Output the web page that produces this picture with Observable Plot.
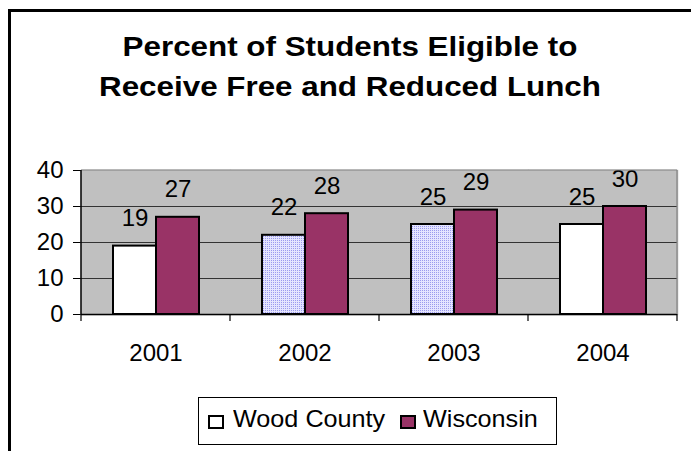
<!DOCTYPE html>
<html><head><meta charset="utf-8">
<script src="https://cdn.jsdelivr.net/npm/d3@7"></script>
<script src="https://cdn.jsdelivr.net/npm/@observablehq/plot@0.6"></script>
<style>
body{margin:0;background:#fff;}
#wrap{position:relative;width:691px;height:451px;overflow:hidden;background:#fff;font-family:"Liberation Sans",Arial,sans-serif;color:#000;}
#border{position:absolute;left:8px;top:9px;width:720px;height:480px;border:3px solid #000;box-sizing:border-box;}
#title{position:absolute;left:0;top:27px;width:700px;text-align:center;font-weight:bold;font-size:28px;line-height:40px;transform:scaleX(1.12);transform-origin:350px 0;white-space:nowrap;}
#chart{position:absolute;left:0;top:140px;}
#legend{position:absolute;left:198px;top:397px;width:359px;height:48px;border:1px solid #000;box-sizing:border-box;background:#fff;}
.sw{position:absolute;width:16px;height:14px;border:2px solid #000;box-sizing:border-box;}
.lt{position:absolute;font-size:24px;line-height:24px;white-space:nowrap;transform:scaleX(1.05);transform-origin:0 0;}
</style></head>
<body>
<div id="wrap">
  <div id="border"></div>
  <div id="title">Percent of Students Eligible to<br>Receive Free and Reduced Lunch</div>
  <div id="chart"></div>
  <div id="legend"></div>
</div>
<script>
const years = ["2001", "2002", "2003", "2004"];
const seriesNames = ["Wood County", "Wisconsin"];
const woodCounty = [19, 22, 25, 25];
const wisconsin = [27, 28, 29, 30];
const yTicks = [0, 10, 20, 30, 40];
const gridValues = [10, 20, 30];

(function () {
const rows = years.flatMap((year, i) => [
  {year, series: seriesNames[0], value: woodCounty[i]},
  {year, series: seriesNames[1], value: wisconsin[i]}
]);

const dottedYears = new Set(["2002", "2003"]);
const maroon = "#993366";
const dotKey = "#ccccff";
const font = "'Liberation Sans', Arial, sans-serif";

const chart = Plot.plot({
  width: 691, height: 229,
  marginTop: 30, marginBottom: 55, marginLeft: 81, marginRight: 14,
  style: {fontFamily: font, fontSize: "24px", color: "#000", background: "transparent"},
  fx: {domain: years, padding: 0, axis: "bottom", tickSize: 0, tickPadding: 29, label: null},
  x: {domain: seriesNames, paddingInner: 0, paddingOuter: 0.73, axis: null},
  y: {domain: [0, 40], ticks: yTicks, tickSize: 8, tickPadding: 10, label: null, tickFormat: d => String(d)},
  marks: [
    Plot.frame({fill: "#c0c0c0", stroke: "#c0c0c0", strokeWidth: 1.5}),
    Plot.ruleY(gridValues, {stroke: "#333", strokeWidth: 1}),
    Plot.barY(rows, {filter: d => d.series === seriesNames[0] && !dottedYears.has(d.year), fx: "year", x: "series", y: "value", fill: "#ffffff", stroke: "#000", strokeWidth: 2}),
    Plot.barY(rows, {filter: d => d.series === seriesNames[0] && dottedYears.has(d.year), fx: "year", x: "series", y: "value", fill: dotKey, stroke: "#000", strokeWidth: 2}),
    Plot.barY(rows, {filter: d => d.series === seriesNames[1], fx: "year", x: "series", y: "value", fill: maroon, stroke: "#000", strokeWidth: 2}),
    Plot.ruleY([0], {stroke: "#000", strokeWidth: 1.5}),
    Plot.text(rows, {fx: "year", x: "series", y: "value", text: d => String(d.value), lineAnchor: "bottom", dy: -20, fontSize: 24, fill: "#000"})
  ]
});

const svg = d3.select(chart);
svg.insert("defs", ":first-child").html(
  '<pattern id="dots" width="2" height="2" patternUnits="userSpaceOnUse">' +
  '<rect width="2" height="2" fill="#e4e4ff"/><rect width="1" height="1" fill="#9a9aee"/></pattern>');
svg.selectAll(`g[fill="${dotKey}"]`).attr("fill", "url(#dots)");

// plot-area border and axis lines from the library's scales
const fxs = chart.scale("fx");
const ys = chart.scale("y");
const x0 = fxs.apply(years[0]);
const x1 = fxs.apply(years[years.length - 1]) + fxs.bandwidth;
const yTop = ys.apply(40), yBot = ys.apply(0);
const deco = svg.append("g");
deco.append("line").attr("x1", x0).attr("x2", x1).attr("y1", yTop).attr("y2", yTop).attr("stroke", "#808080").attr("stroke-width", 1.2);
deco.append("line").attr("x1", x1).attr("x2", x1).attr("y1", yTop).attr("y2", yBot).attr("stroke", "#808080").attr("stroke-width", 1.2);
deco.append("line").attr("x1", x0).attr("x2", x0).attr("y1", yTop).attr("y2", yBot).attr("stroke", "#000").attr("stroke-width", 1.5);
const bounds = years.map(yr => fxs.apply(yr)).concat([x1]);
bounds.forEach(bx => {
  deco.append("line").attr("x1", bx).attr("x2", bx).attr("y1", yBot).attr("y2", yBot + 7).attr("stroke", "#000").attr("stroke-width", 1.2);
});

document.getElementById("chart").appendChild(chart);

// legend
const legend = document.getElementById("legend");
const swatchFills = ["#ffffff", maroon];
const swLeft = [9, 201], txtLeft = [34, 224];
seriesNames.forEach((name, i) => {
  const sw = document.createElement("div");
  sw.className = "sw";
  sw.style.left = swLeft[i] + "px"; sw.style.top = "17px";
  sw.style.background = swatchFills[i];
  legend.appendChild(sw);
  const t = document.createElement("div");
  t.className = "lt";
  t.style.left = txtLeft[i] + "px"; t.style.top = "9px";
  t.textContent = name;
  legend.appendChild(t);
});
})();
</script>
</body></html>
